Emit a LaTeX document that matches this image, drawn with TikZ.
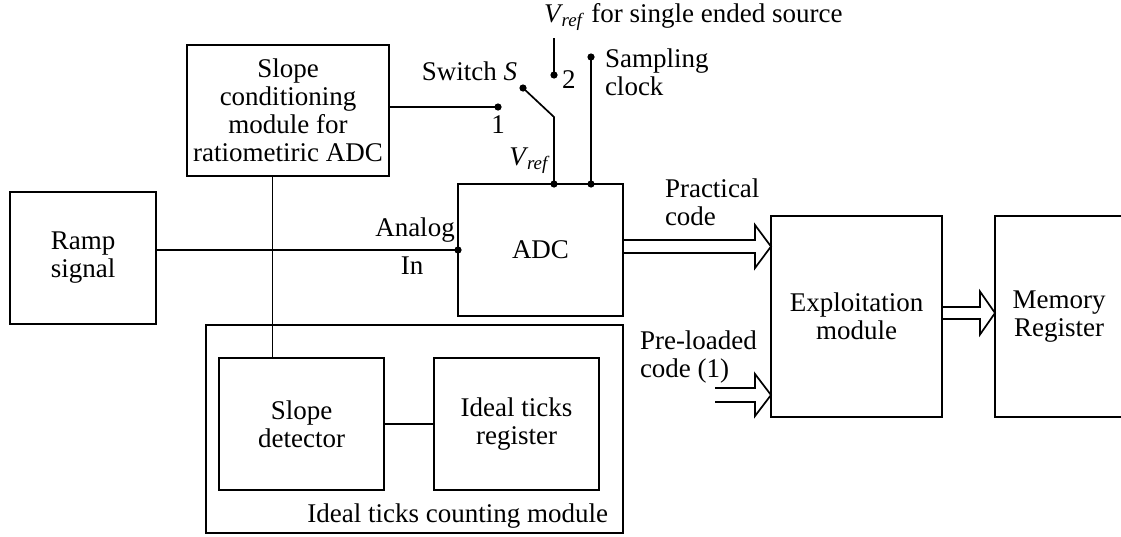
\documentclass[tikz,border=0pt]{standalone}
\usepackage{fontspec}
\setmainfont{Liberation Serif}
\usetikzlibrary{calc}
\newcommand{\Vref}{\textit{V}\textsubscript{\kern-1.5pt\textit{ref}}}
\newcommand{\hollowarr}[5]{%
  \draw ($(#1)+(0,-#3)$) -- ($(#2)+(-#5,-#3)$) -- ($(#2)+(-#5,-#4)$) -- (#2)
        -- ($(#2)+(-#5,#4)$) -- ($(#2)+(-#5,#3)$) -- ($(#1)+(0,#3)$);}
\begin{document}
\begin{tikzpicture}[x=1pt,y=-1pt,line width=1.7pt,
  every node/.style={font=\fontsize{27}{28}\selectfont, inner sep=0pt, outer sep=0pt},
  box/.style={draw, align=center},
  lbl/.style={align=left},
  dot/.style={fill=black}]
\useasboundingbox (0,0) rectangle (1121,536);

% boxes
\node[box, minimum width=146pt, minimum height=132pt] (ramp) at (83,258) {Ramp\\signal};
\node[box, minimum width=202pt, minimum height=131pt] (slopecond) at (288,110.5)
  {Slope\\conditioning\\module for\\ratiometiric ADC};
\node[box, minimum width=165pt, minimum height=132pt] (adc) at (540.5,250) {ADC};
\node[box, minimum width=417pt, minimum height=208pt] (outer) at (414.5,429) {};
\node[box, minimum width=165pt, minimum height=132pt] (slopedet) at (301.5,424) {Slope\\detector};
\node[box, minimum width=165pt, minimum height=132pt] (itreg) at (516.5,424) {Ideal ticks\\register};
\node[box, minimum width=171pt, minimum height=201pt] (exploit) at (856.5,316.5) {Exploitation\\module};
\node[box, minimum width=128pt, minimum height=201pt] (memory) at (1059,316.5) {Memory\\Register};

% labels
\node[anchor=base east] (countlbl) at (608,522) {Ideal ticks counting module};
\node[anchor=base] (analog) at (415,236) {Analog};
\node[anchor=base] (inlbl) at (412,274) {In};
\node[lbl, anchor=west] (praclbl) at (665,202) {Practical\\code};
\node[lbl, anchor=west] (prelbl) at (640,357) {Pre-loaded\\code (1)};
\node[lbl, anchor=west] (clklbl) at (605,72.5) {Sampling\\clock};
\node[anchor=base east] (swlbl) at (517,80) {Switch \textit{S}};
\node[anchor=base west] (twolbl) at (562,88) {2};
\node[anchor=base] (onelbl) at (498,133) {1};
\node[anchor=base east] (vreflbl) at (550,165) {\Vref};
\node[anchor=base west] (vreftop) at (544,22) {\Vref\ for single ended source};

% coordinates
\coordinate (p1) at (498,107);
\coordinate (sw) at (523,88);
\coordinate (knee) at (554,117);
\coordinate (vin) at (knee |- adc.north);
\coordinate (p2) at (554,75);
\coordinate (p2top) at (554,38);
\coordinate (clk) at (591,57);
\coordinate (clkin) at (clk |- adc.north);
\coordinate (vx) at (272.5,0);

% wires
\draw (ramp.east |- adc.west) -- (adc.west);
\draw (vx |- slopecond.south) -- (vx |- slopedet.north);
\draw (slopedet.east) -- (itreg.west);
\draw (slopecond.east |- p1) -- (p1);
\draw (sw) -- (knee) -- (vin);
\draw (p2top) -- (p2);
\draw (clk) -- (clkin);
\foreach \p in {p1,sw,p2,clk,vin,clkin,adc.west}
  \fill (\p) circle (3.6);

% hollow arrows
\coordinate (pcy) at (0,246.5);
\coordinate (pcT) at (adc.east |- pcy);
\coordinate (pcH) at (exploit.west |- pcy);
\hollowarr{pcT}{pcH}{6.5}{21.5}{16}
\coordinate (plT) at (715,395);
\coordinate (plH) at (exploit.west |- plT);
\hollowarr{plT}{plH}{7}{21}{16}
\coordinate (mry) at (0,313);
\coordinate (mrT) at (exploit.east |- mry);
\coordinate (mrH) at (memory.west |- mry);
\hollowarr{mrT}{mrH}{6}{21.5}{15}
\end{tikzpicture}
\end{document}
